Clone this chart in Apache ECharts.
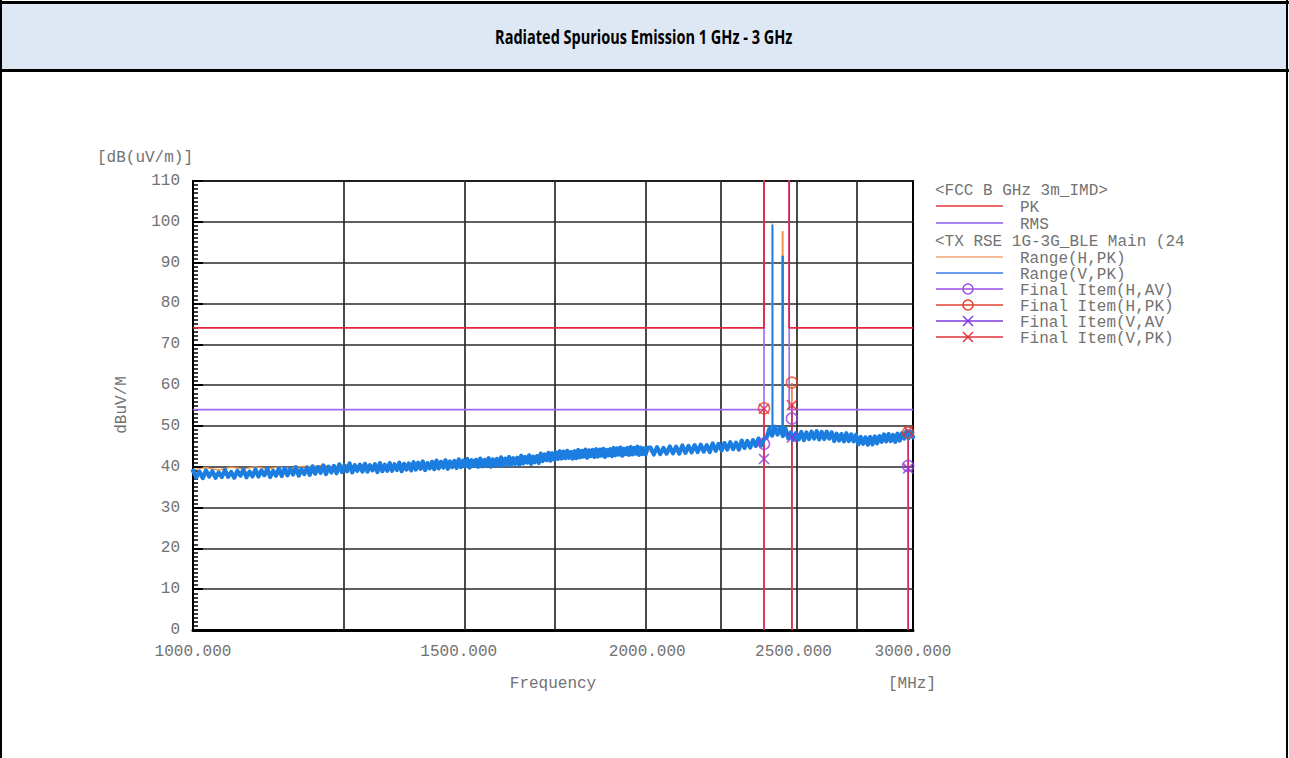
<!DOCTYPE html>
<html><head><meta charset="utf-8">
<script src="https://cdn.jsdelivr.net/npm/echarts@6/dist/echarts.min.js"></script>
<style>
html,body{margin:0;padding:0;background:#fff;width:1289px;height:758px;overflow:hidden;}
#chart{position:absolute;left:0;top:0;width:1289px;height:758px;}
#hdr{position:absolute;left:2px;top:4px;width:1284px;height:65px;background:#dde8f4;display:flex;align-items:center;justify-content:center;}
#title{font-family:'Open Sans',sans-serif;font-weight:700;font-size:19px;color:#000;white-space:nowrap;display:inline-block;}
.b{position:absolute;background:#000;}
</style></head>
<body>
<div id="chart"></div>
<div id="hdr"><span id="title">Radiated Spurious Emission 1 GHz - 3 GHz</span></div>
<div class="b" style="left:0;top:1px;width:1289px;height:3px"></div>
<div class="b" style="left:0;top:69px;width:1289px;height:3px"></div>
<div class="b" style="left:0;top:0;width:2px;height:758px"></div>
<div class="b" style="left:1286px;top:0;width:2px;height:758px"></div>
<script>
// ---------------- DATA ----------------
const X_MIN = 1000, X_MAX = 3000;                       // MHz
const X_LABELS = [1000, 1500, 2000, 2500, 3000];         // labelled ticks
const X_GRID = [1250, 1500, 1750, 2000, 2250, 2500, 2750]; // vertical grid lines
const Y_MIN = 0, Y_MAX = 110, Y_STEP = 10;

// Range(V,PK) sweep 1000-2000 MHz, 5 MHz step
const V_LO_START = 1000, V_LO_STEP = 5;
const rangeV_lo = [
39.0,37.4,38.8,37.2,39.1,37.6,38.9,37.3,38.6,37.5,
39.2,37.5,38.7,37.3,39.0,37.8,39.3,37.4,38.8,37.6,
39.4,37.6,39.1,37.9,39.5,37.5,39.0,37.8,39.6,37.7,
39.7,37.9,39.5,38.1,39.9,37.8,39.4,38.2,39.8,38.0,
40.1,38.3,39.9,38.5,40.3,38.2,40.0,38.6,40.2,38.4,
40.6,38.7,40.3,38.9,40.8,38.6,40.4,39.0,40.5,38.8,
40.7,38.8,40.4,39.1,40.6,38.7,40.9,38.9,40.5,39.0,
40.9,39.0,40.6,39.2,41.0,38.9,40.7,39.3,40.8,39.1,
41.1,39.3,41.0,39.5,41.3,39.2,40.9,39.6,41.2,39.4,
41.5,39.6,41.2,39.8,41.6,39.5,41.3,39.9,41.4,39.7,
41.8,39.9,41.5,40.1,41.9,39.8,41.6,40.2,41.7,40.0,
42.0,40.1,41.7,40.3,42.1,40.0,41.8,40.4,41.9,40.2,
42.3,40.4,42.0,40.6,42.4,40.3,42.1,40.7,42.2,40.5,
42.7,40.8,42.4,41.0,42.8,40.7,42.5,41.1,42.6,40.9,
43.2,41.4,43.0,41.6,43.4,41.5,43.3,41.8,43.5,41.9,
43.8,42.0,43.7,42.1,43.9,42.2,43.6,42.0,43.8,42.1,
44.1,42.3,43.9,42.5,44.2,42.2,44.0,42.6,44.1,42.4,
44.3,42.5,44.2,42.7,44.4,42.4,44.1,42.8,44.3,42.6,
44.6,42.8,44.5,43.0,44.7,42.7,44.4,43.1,44.6,42.9,
44.8,43.0,44.6,43.2,44.9,42.9,44.7,43.1,44.5,43.0,
44.6];
// Range(V,PK) sweep 2010-3000 MHz, 10 MHz step
const V_HI_START = 2010, V_HI_STEP = 10;
const rangeV_hi = [
44.7,43.0,44.8,43.1,44.6, 43.2,45.0,43.3,44.9,43.2,
45.2,43.4,45.1,43.5,45.3, 43.6,45.4,43.7,45.3,43.6,
45.7,43.9,45.6,44.0,45.8, 44.2,46.0,44.3,45.9,44.2,
46.4,44.6,46.3,44.7,46.5, 45.1,46.9,45.2,46.8,
47.2,49.4,47.6,49.8,47.9,49.6,47.5,49.3,47.0,
48.4,46.6,48.3,46.7,48.5,46.5,48.4,
46.8,48.6,46.9,48.7,46.7,48.5,46.8,48.6,46.9,48.4,
46.3,48.1,46.4,48.0,46.2,48.2,46.3,47.9,46.2,47.8,
45.5,47.3,45.6,47.2,45.4,47.3,45.5,47.4,45.7,47.5,
46.1,47.9,46.2,48.0,46.3,47.8,46.1,48.1,46.4,48.2,
46.9,48.7,47.0,48.6,47.2];
// Range(H,PK) sweep 1000-3000 MHz, 20 MHz step
const H_START = 1000, H_STEP = 20;
const rangeH = [
39.3,39.8,39.2,39.9,39.4,40.0,39.5,39.9,39.6,40.1,
40.0,40.4,39.9,40.5,40.2,40.6,40.1,40.4,40.3,40.7,
40.2,40.6,40.4,40.8,40.5,41.0,40.7,41.1,40.8,41.2,
41.0,41.4,41.3,41.8,41.9,42.3,42.4,42.9,42.8,43.1,
43.0,43.4,43.2,43.6,43.4,43.8,43.6,44.0,43.8,44.1,
43.7,44.0,43.8,44.2,44.0,44.4,44.2,44.5,44.3,44.6,
44.5,44.9,44.7,45.1,45.0,45.4,45.3,45.7,45.6,46.0,
47.5,48.3,48.0,48.4,47.7,47.3,47.6,47.2,47.5,47.3,
47.6,47.2,47.5,47.1,47.3,46.9,47.1,46.7,46.6,46.3,
46.2,46.5,46.4,46.8,46.7,47.1,47.0,47.4,47.3,47.6,
47.5];
// carrier spikes [freq MHz, base dB, peak dB]
const spikesH = [[2421, 47.5, 99.6], [2459, 47.5, 97.7]];
const spikesV = [[2421, 47.5, 99.2], [2459, 47.5, 91.7]];
// limits <FCC B GHz 3m_IMD>
const limitPK  = [[1000,74],[2390,74],[2390,130],[2483.5,130],[2483.5,74],[3000,74]];
const limitRMS = [[1000,54],[2390,54],[2390,130],[2483.5,130],[2483.5,54],[3000,54]];
// final items
const finalFreq = [2390, 2494, 2978];
const finalH_AV = [45.6, 51.8, 40.2];
const finalH_PK = [54.3, 60.6, 48.4];
const finalV_AV = [41.9, 47.2, 39.6];
const finalV_PK = [54.2, 55.1, 48.8];

// ---------------- BUILD ----------------
const L = Math.log10;
const sweep = (start, step, vals) => vals.map((v, i) => [L(start + i * step), v]);
const pts = arr => arr.map(([f, v]) => [L(f), v]);
const MONO = '"Liberation Mono", "DejaVu Sans Mono", monospace';
const TXT = '#727272';

const C = {
  pk: '#e3263a', rms: '#a067f0', h: '#f29444', v: '#1c7de0',
  hav: '#9142e0', hpk: '#e2452e', vav: '#8a35dc', vpk: '#e02a3e',
  stemV: '#d41f5a', stemH: '#ec6e3a'
};
const XPATH = 'path://M0,0L10,10M10,0L0,10';

const series = [];
series.push({
  type: 'line', data: [], silent: true, z: 1,
  markLine: { silent: true, symbol: ['none', 'none'], label: { show: false },
    lineStyle: { color: '#2a2a2a', width: 1.7, type: 'solid' },
    data: X_GRID.map(f => ({ xAxis: L(f) })) }
});
finalFreq.forEach((f, i) => {
  series.push({ type: 'line', silent: true, symbol: 'none', z: 3,
    lineStyle: { color: C.stemH, width: 1.5 }, data: pts([[f, 0], [f, finalH_PK[i]]]) });
});
finalFreq.forEach((f, i) => {
  series.push({ type: 'line', silent: true, symbol: 'none', z: 3,
    lineStyle: { color: C.stemV, width: 1.5 }, data: pts([[f, 0], [f, finalV_PK[i]]]) });
});
series.push({ name: 'Range(H,PK)', type: 'line', symbol: 'none', z: 4,
  lineStyle: { color: C.h, width: 1.3 }, data: sweep(H_START, H_STEP, rangeH) });
spikesH.forEach(([f, b, p]) => series.push({ type: 'line', symbol: 'none', z: 4,
  lineStyle: { color: C.h, width: 2 }, data: pts([[f, b], [f, p]]) }));
series.push({ name: 'Range(V,PK)', type: 'line', symbol: 'none', z: 5,
  lineStyle: { color: C.v, width: 4.2, join: 'round', cap: 'round' },
  data: sweep(V_LO_START, V_LO_STEP, rangeV_lo).concat(sweep(V_HI_START, V_HI_STEP, rangeV_hi)) });
spikesV.forEach(([f, b, p], i) => series.push({ type: 'line', symbol: 'none', z: 5,
  lineStyle: { color: C.v, width: i === 0 ? 1.6 : 2.4 }, data: pts([[f, b], [f, p]]) }));
series.push({ name: 'RMS', type: 'line', symbol: 'none', z: 6,
  lineStyle: { color: C.rms, width: 1.6 }, data: pts(limitRMS) });
series.push({ name: 'PK', type: 'line', symbol: 'none', z: 7,
  lineStyle: { color: C.pk, width: 1.8 }, data: pts(limitPK) });
const mk = (name, vals, sym, color, size) => ({
  name, type: 'scatter', symbol: sym, symbolSize: size, z: 8,
  itemStyle: { color: 'rgba(0,0,0,0)', borderColor: color, borderWidth: 1.6 },
  data: finalFreq.map((f, i) => [L(f), vals[i]])
});
series.push(mk('Final Item(H,AV)', finalH_AV, 'circle', C.hav, 11));
series.push(mk('Final Item(H,PK)', finalH_PK, 'circle', C.hpk, 11));
series.push(mk('Final Item(V,AV)', finalV_AV, XPATH, C.vav, 10));
series.push(mk('Final Item(V,PK)', finalV_PK, XPATH, C.vpk, 10));

const legendRows = [
  { text: '<FCC B GHz 3m_IMD>', head: true },
  { text: 'PK', color: '#e03434' },
  { text: 'RMS', color: '#8b5cf0' },
  { text: '<TX RSE 1G-3G_BLE Main (24', head: true },
  { text: 'Range(H,PK)', color: '#f2a774' },
  { text: 'Range(V,PK)', color: '#3d7be8' },
  { text: 'Final Item(H,AV)', color: '#9a4de8', mark: 'o' },
  { text: 'Final Item(H,PK)', color: '#e04030', mark: 'o' },
  { text: 'Final Item(V,AV', color: '#7d3ae0', mark: 'x' },
  { text: 'Final Item(V,PK)', color: '#e0303a', mark: 'x' }
];
const rowY = [191, 208, 225, 242, 259, 275, 291, 307, 323, 339];
const gfx = [];
legendRows.forEach((r, i) => {
  const ty = rowY[i], ly = ty - 2;
  if (r.head) {
    gfx.push({ type: 'text', x: 935, y: ty, z: 10,
      style: { text: r.text, font: '16px ' + MONO, fill: TXT, verticalAlign: 'middle' } });
    return;
  }
  gfx.push({ type: 'line', z: 10, shape: { x1: 936, y1: ly, x2: 1003, y2: ly }, style: { stroke: r.color, lineWidth: 1.5 } });
  if (r.mark === 'o') gfx.push({ type: 'circle', z: 10, shape: { cx: 968, cy: ly, r: 5 }, style: { fill: 'none', stroke: r.color, lineWidth: 1.5 } });
  if (r.mark === 'x') gfx.push({ type: 'polyline', z: 10, shape: { points: [[963, ly - 5], [973, ly + 5]] }, style: { stroke: r.color, lineWidth: 1.5 } },
                                { type: 'polyline', z: 10, shape: { points: [[973, ly - 5], [963, ly + 5]] }, style: { stroke: r.color, lineWidth: 1.5 } });
  gfx.push({ type: 'text', x: 1020, y: ty, z: 10,
    style: { text: r.text, font: '16px ' + MONO, fill: TXT, verticalAlign: 'middle' } });
});
gfx.push({ type: 'rect', z: 11, shape: { x: 1185, y: 230, width: 80, height: 22 }, style: { fill: '#fff' } });
gfx.push({ type: 'text', x: 912, y: 684, z: 10,
  style: { text: '[MHz]', font: '16px ' + MONO, fill: TXT, align: 'center', verticalAlign: 'middle' } });
gfx.push({ type: 'text', x: 122, y: 405, rotation: Math.PI / 2, z: 10,
  style: { text: 'dBuV/M', font: '16px ' + MONO, fill: TXT, align: 'center', verticalAlign: 'middle' } });

const chart = echarts.init(document.getElementById('chart'), null, { renderer: 'svg' });
chart.setOption({
  animation: false,
  backgroundColor: 'transparent',
  grid: { left: 193, top: 181, width: 720, height: 449, show: true, borderColor: '#000', borderWidth: 2, backgroundColor: 'transparent' },
  xAxis: {
    type: 'value', min: L(X_MIN), max: L(X_MAX),
    axisLine: { show: true, onZero: false, lineStyle: { color: '#000', width: 3 } },
    axisTick: { show: false }, splitLine: { show: false },
    axisLabel: { customValues: X_LABELS.map(L), formatter: v => Math.round(Math.pow(10, v)).toFixed(3),
      color: TXT, fontFamily: MONO, fontSize: 16, margin: 14 },
    name: 'Frequency', nameLocation: 'middle', nameGap: 46,
    nameTextStyle: { color: TXT, fontFamily: MONO, fontSize: 16 }
  },
  yAxis: {
    type: 'value', min: Y_MIN, max: Y_MAX, interval: Y_STEP,
    axisLine: { show: true, lineStyle: { color: '#000', width: 2 } },
    axisTick: { show: true, inside: true, length: 10, lineStyle: { color: '#000', width: 2 } },
    minorTick: { show: true, splitNumber: 10, length: 5, lineStyle: { color: '#000', width: 1.5 } },
    splitLine: { show: true, lineStyle: { color: '#2a2a2a', width: 1.7 } },
    axisLabel: { color: TXT, fontFamily: MONO, fontSize: 16, margin: 13 },
    name: '[dB(uV/m)]', nameLocation: 'end', nameGap: 15,
    nameTextStyle: { color: TXT, fontFamily: MONO, fontSize: 16, align: 'right' }
  },
  series,
  graphic: gfx
});

const t = document.getElementById('title');
t.style.transform = 'scaleX(' + (297 / t.offsetWidth) + ')';
</script>
</body></html>
